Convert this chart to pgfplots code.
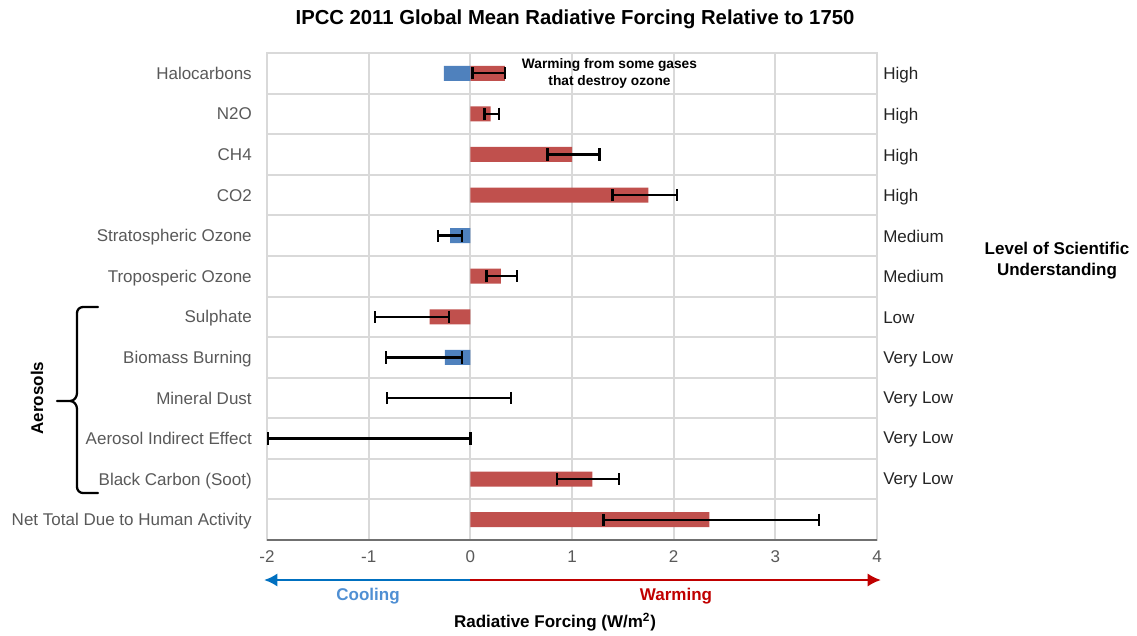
\documentclass[border=0pt]{standalone}
\usepackage{fontspec}
\setmainfont{Liberation Sans}
\usepackage{pgfplots}
\pgfplotsset{compat=1.18}
\usepackage{pgfplotstable}
\usetikzlibrary{arrows.meta}

\definecolor{barred}{HTML}{C0504D}
\definecolor{barblue}{HTML}{4F81BD}
\definecolor{txtgray}{HTML}{595959}
\definecolor{gridgray}{HTML}{D9D9D9}
\definecolor{axgray}{HTML}{707070}
\definecolor{arrblue}{HTML}{0070C0}
\definecolor{arrred}{HTML}{C00000}
\definecolor{coolblue}{HTML}{4F8FD3}

\newcommand\fA{\fontsize{12.75pt}{15pt}\selectfont}
\newcommand\fT{\bfseries\fontsize{15.2pt}{18pt}\selectfont}
\newcommand\fS{\bfseries\fontsize{10.3pt}{12.75pt}\selectfont}

% warming (red) bars
\pgfplotstableread{
idx val
0 0.34
1 0.20
2 1.00
3 1.75
5 0.30
6 -0.40
10 1.20
11 2.35
}\warmtab
% cooling (blue) bars
\pgfplotstableread{
idx val
0 -0.26
4 -0.20
7 -0.25
}\cooltab
% uncertainty ranges
\pgfplotstableread{
idx lo hi
0 0.02 0.34
1 0.14 0.28
2 0.76 1.27
3 1.40 2.03
4 -0.32 -0.08
5 0.16 0.46
6 -0.94 -0.21
7 -0.83 -0.08
8 -0.82 0.40
9 -1.99 0.00
10 0.85 1.46
11 1.31 3.43
}\errtab

\begin{document}
\begin{tikzpicture}
\begin{scope}[x=0.75pt,y=-0.75pt,shift={(-200.25pt,405pt)}]
\path[use as bounding box] (0,0) rectangle (1137,634);
\end{scope}
\begin{axis}[
  at={(0,0)}, anchor=south west,
  scale only axis, width=457.5pt, height=365.25pt,
  xmin=-2, xmax=4, ymin=-0.5, ymax=11.5, y dir=reverse,
  xtick={-2,-1,0,1,2,3,4},
  ytick={0,1,2,3,4,5,6,7,8,9,10,11},
  yticklabels={Halocarbons,N2O,CH4,CO2,Stratospheric Ozone,Troposperic Ozone,Sulphate,Biomass Burning,Mineral Dust,Aerosol Indirect Effect,Black Carbon (Soot),Net Total Due to Human Activity},
  minor ytick={0.5,1.5,2.5,3.5,4.5,5.5,6.5,7.5,8.5,9.5,10.5},
  xmajorgrids=true, yminorgrids=true,
  grid style={draw=gridgray, line width=1.5pt},
  minor grid style={draw=gridgray, line width=1.5pt},
  axis line style={draw=gridgray, line width=1.5pt},
  major tick length=0pt, minor tick length=0pt,
  /pgf/number format/assume math mode=true,
  xticklabel style={font=\fA, text=txtgray, inner sep=0pt, anchor=north, yshift=-8pt},
  yticklabel style={font=\fA, text=txtgray, inner sep=0pt, anchor=east, xshift=-11.25pt, text height=9.1pt, text depth=0pt},
  clip=false,
]
\addplot[xbar, bar width=11.25pt, bar shift=0pt, fill=barred, draw=none] table[x=val, y=idx]{\warmtab};
\addplot[xbar, bar width=11.25pt, bar shift=0pt, fill=barblue, draw=none] table[x=val, y=idx]{\cooltab};
\addplot[draw=none, mark=none, forget plot,
  error bars/.cd, x dir=both, x explicit,
  error mark=|,
  error bar style={draw=black, line width=1.8pt, solid},
  error mark options={draw=black, line width=1.8pt, mark size=4.6pt, rotate=0}]
  table[x expr=(\thisrow{lo}+\thisrow{hi})/2, y=idx, x error expr=(\thisrow{hi}-\thisrow{lo})/2]{\errtab};
\draw[axgray, line width=1.5pt] (axis cs:-2,11.5) -- (axis cs:4,11.5);
\end{axis}
\begin{scope}[x=0.75pt,y=-0.75pt,shift={(-200.25pt,405pt)}]
\node[anchor=base, font=\fT] at (575,24) {IPCC 2011 Global Mean Radiative Forcing Relative to 1750};
\node[anchor=base, font=\fS] at (609.5,68) {Warming from some gases};
\node[anchor=base, font=\fS] at (609.5,85) {that destroy ozone};
\foreach \lab/\yy in {High/73, High/114, High/155, High/195, Medium/236, Medium/276, Low/317, Very Low/357, Very Low/397, Very Low/437, Very Low/478}
  \node[anchor=west, font=\fA, text=txtgray!40!black, inner sep=0pt, text height=9.1pt, text depth=0pt] at (883,\yy) {\lab};
\node[anchor=base, font=\fA\bfseries] at (1057,254) {Level of Scientific};
\node[anchor=base, font=\fA\bfseries] at (1057,275) {Understanding};
\node[rotate=90, font=\fA\bfseries] at (37,398) {Aerosols};
\draw[line width=1.7pt, line cap=round, line join=round] (98,307) -- (83,307) to[out=180,in=90] (77,313) -- (77,393) to[out=270,in=0] (70,401) -- (57,401)
  (70,401) to[out=0,in=90] (77,409) -- (77,487) to[out=270,in=180] (83,493) -- (98,493);
\draw[arrblue, line width=2.2pt, -{Latex[length=10pt,width=10pt]}] (470.33,580) -- (264,580);
\draw[arrred, line width=2.2pt, -{Latex[length=10pt,width=10pt]}] (470.33,580) -- (881,580);
\node[anchor=base, font=\fA\bfseries, text=coolblue] at (368,600) {Cooling};
\node[anchor=base, font=\fA\bfseries, text=arrred] at (676,600) {Warming};
\node[anchor=base, font=\fA\bfseries] at (555,627) {Radiative Forcing (W/m\textsuperscript{2})};
\end{scope}
\end{tikzpicture}
\end{document}
